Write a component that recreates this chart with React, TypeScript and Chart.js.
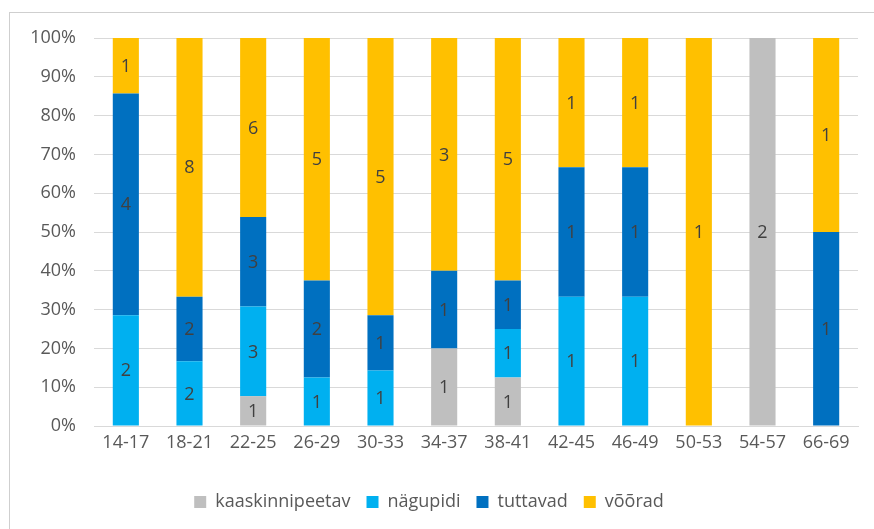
import React, { useEffect, useRef } from "react";
import { Chart, registerables } from "chart.js";

Chart.register(...registerables);

const categories = ["14-17", "18-21", "22-25", "26-29", "30-33", "34-37", "38-41", "42-45", "46-49", "50-53", "54-57", "66-69"];
const kaaskinnipeetav = [0, 0, 1, 0, 0, 1, 1, 0, 0, 0, 2, 0];
const nagupidi = [2, 2, 3, 1, 1, 0, 1, 1, 1, 0, 0, 0];
const tuttavad = [4, 2, 3, 2, 1, 1, 1, 1, 1, 0, 0, 1];
const vooraad = [1, 8, 6, 5, 5, 3, 5, 1, 1, 1, 0, 1];
const yTicks = [0, 10, 20, 30, 40, 50, 60, 70, 80, 90, 100];

const seriesNames = ["kaaskinnipeetav", "nägupidi", "tuttavad", "võõrad"];
const seriesColors = ["#BFBFBF", "#00B0F0", "#0070C0", "#FFC000"];
const seriesCounts = [kaaskinnipeetav, nagupidi, tuttavad, vooraad];

const totals = categories.map((_, i) => seriesCounts.reduce((s, arr) => s + arr[i], 0));

const FONT = "'Open Sans', sans-serif";

const countLabels = {
  id: "countLabels",
  afterDatasetsDraw(chart: any) {
    const ctx = chart.ctx;
    ctx.save();
    ctx.font = `18px ${FONT}`;
    ctx.fillStyle = "#404040";
    ctx.textAlign = "center";
    ctx.textBaseline = "middle";
    chart.data.datasets.forEach((ds: any, di: number) => {
      const meta = chart.getDatasetMeta(di);
      meta.data.forEach((bar: any, i: number) => {
        const c = ds.counts[i];
        if (!c) return;
        ctx.fillText(String(c), bar.x, (bar.y + bar.base) / 2 + 1);
      });
    });
    ctx.restore();
  },
};

export default function App() {
  const ref = useRef<HTMLCanvasElement | null>(null);
  useEffect(() => {
    if (!ref.current) return;
    const chart = new Chart(ref.current, {
      type: "bar",
      data: {
        labels: categories,
        datasets: seriesNames.map((name, si) => ({
          label: name,
          data: seriesCounts[si].map((v, i) => (totals[i] ? (v / totals[i]) * 100 : 0)),
          counts: seriesCounts[si],
          backgroundColor: seriesColors[si],
          borderWidth: 0,
          categoryPercentage: 1,
          barPercentage: 0.41,
        })) as any,
      },
      options: {
        animation: false,
        responsive: false,
        maintainAspectRatio: false,
        layout: { padding: { left: 0, right: 16, top: 38, bottom: 8 } },
        plugins: {
          legend: {
            position: "bottom",
            labels: {
              boxWidth: 12,
              boxHeight: 12,
              padding: 16,
              color: "#595959",
              font: { family: FONT, size: 18 },
            },
          },
          tooltip: { enabled: false },
        },
        scales: {
          x: {
            stacked: true,
            grid: { display: false, drawTicks: false },
            border: { display: true, color: "#d9d9d9" },
            ticks: { color: "#595959", font: { family: FONT, size: 18 }, padding: 6, maxRotation: 0 },
            afterFit: (s: any) => { s.height = 51; },
          },
          y: {
            stacked: true,
            min: 0,
            max: 100,
            afterBuildTicks: (s: any) => { s.ticks = yTicks.map((v) => ({ value: v })); },
            grid: { color: "#d9d9d9", drawTicks: false },
            border: { display: false },
            ticks: {
              color: "#595959",
              font: { family: FONT, size: 18 },
              padding: 18,
              callback: (v: any) => `${v}%`,
            },
            afterFit: (s: any) => { s.width = 94; },
          },
        },
      },
      plugins: [countLabels],
    });
    return () => chart.destroy();
  }, []);
  return (
    <div style={{ position: "fixed", left: 0, top: 0, width: 874, height: 529, background: "#fff", overflow: "hidden" }}>
      <div style={{ position: "absolute", left: 9, top: 12, width: 900, height: 600, border: "1px solid #cfcfcf", boxSizing: "border-box" }} />
      <canvas ref={ref} width={874} height={529} style={{ position: "absolute", left: 0, top: 0, width: 874, height: 529 }} />
    </div>
  );
}
